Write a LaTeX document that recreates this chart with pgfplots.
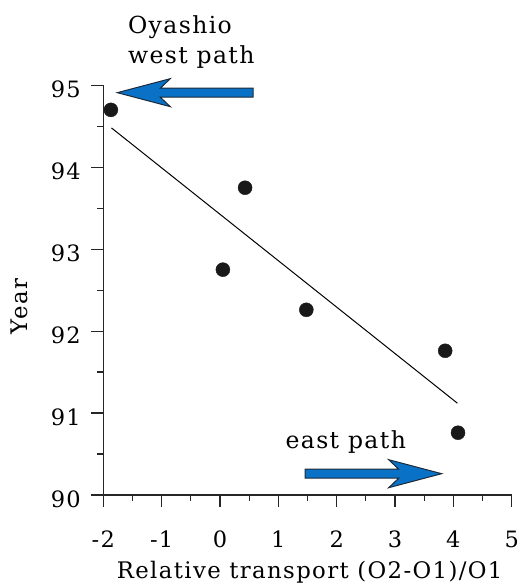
\documentclass[border=0pt]{standalone}
\usepackage{pgfplots}
\pgfplotsset{compat=1.18}
\usepackage{fontspec}
\setmainfont{DejaVu Serif}[LetterSpace=6]
\definecolor{arrowblue}{HTML}{0A72C6}
\definecolor{arrowedge}{HTML}{1C2A3A}
\definecolor{axisgray}{HTML}{262626}
\begin{document}
\begin{tikzpicture}
\begin{axis}[
  x=58.34pt, y=81.94pt,
  xmin=-2, xmax=5, ymin=90, ymax=95,
  axis x line*=bottom, axis y line*=left,
  axis line style={line width=1.2pt, color=axisgray},
  xtick={-2,-1,0,1,2,3,4,5}, ytick={90,91,92,93,94,95},
  minor x tick num=1, minor y tick num=1,
  tick align=outside,
  major tick length=12pt, minor tick length=6pt,
  every tick/.style={line width=1.2pt, color=axisgray},
  /pgf/number format/assume math mode=true,
  ticklabel style={font=\fontsize{22.5}{27}\selectfont},
  xticklabel style={anchor=base, yshift=-40pt},
  yticklabel style={anchor=east, yshift=-4pt, xshift=-7pt},
  clip=false,
  xlabel={Relative transport (O2-O1)/O1},
  xlabel style={font=\fontsize{22.8}{27}\selectfont, at={(axis cs:1.537,90)}, anchor=base, yshift=-83pt},
  ylabel={Year},
  ylabel style={font=\fontsize{22.8}{27}\selectfont, at={(axis cs:-2,92.3)}, anchor=center, yshift=84pt},
]
\coordinate (O) at (axis cs:-2,90);
% regression line
\addplot[black, line width=1pt] coordinates {(-1.86,94.48) (4.07,91.12)};
% data points
\addplot[only marks, mark=*, mark size=7pt, color=black!90] coordinates {
  (-1.87,94.70) (0.05,92.75) (0.43,93.75) (1.48,92.26) (3.86,91.76) (4.08,90.76)
};
% west arrow
\filldraw[fill=arrowblue, draw=arrowedge, line width=1pt, line join=miter]
  (axis cs:-1.76,94.91)
  -- ([xshift=53pt,yshift=14pt]axis cs:-1.76,94.91)
  -- ([xshift=43pt,yshift=4.5pt]axis cs:-1.76,94.91)
  -- ([yshift=4.5pt]axis cs:0.57,94.91)
  -- ([yshift=-4.5pt]axis cs:0.57,94.91)
  -- ([xshift=43pt,yshift=-4.5pt]axis cs:-1.76,94.91)
  -- ([xshift=53pt,yshift=-14pt]axis cs:-1.76,94.91)
  -- cycle;
% east arrow
\filldraw[fill=arrowblue, draw=arrowedge, line width=1pt, line join=miter]
  (axis cs:3.80,90.26)
  -- ([xshift=-53pt,yshift=14pt]axis cs:3.80,90.26)
  -- ([xshift=-43pt,yshift=4.5pt]axis cs:3.80,90.26)
  -- ([yshift=4.5pt]axis cs:1.46,90.26)
  -- ([yshift=-4.5pt]axis cs:1.46,90.26)
  -- ([xshift=-43pt,yshift=-4.5pt]axis cs:3.80,90.26)
  -- ([xshift=-53pt,yshift=-14pt]axis cs:3.80,90.26)
  -- cycle;
\node[anchor=base west, inner sep=0pt, font=\fontsize{23.5}{28}\selectfont] at (axis cs:-1.58,95.634) {Oyashio};
\node[anchor=base west, inner sep=0pt, font=\fontsize{23.5}{28}\selectfont] at (axis cs:-1.58,95.268) {west path};
\node[anchor=base west, inner sep=0pt, font=\fontsize{23.5}{28}\selectfont] at (axis cs:1.12,90.573) {east path};
\end{axis}
\pgfresetboundingbox
\path (O) ++(-103.3pt,-90pt) rectangle ++(518pt,585pt);
\end{tikzpicture}
\end{document}
